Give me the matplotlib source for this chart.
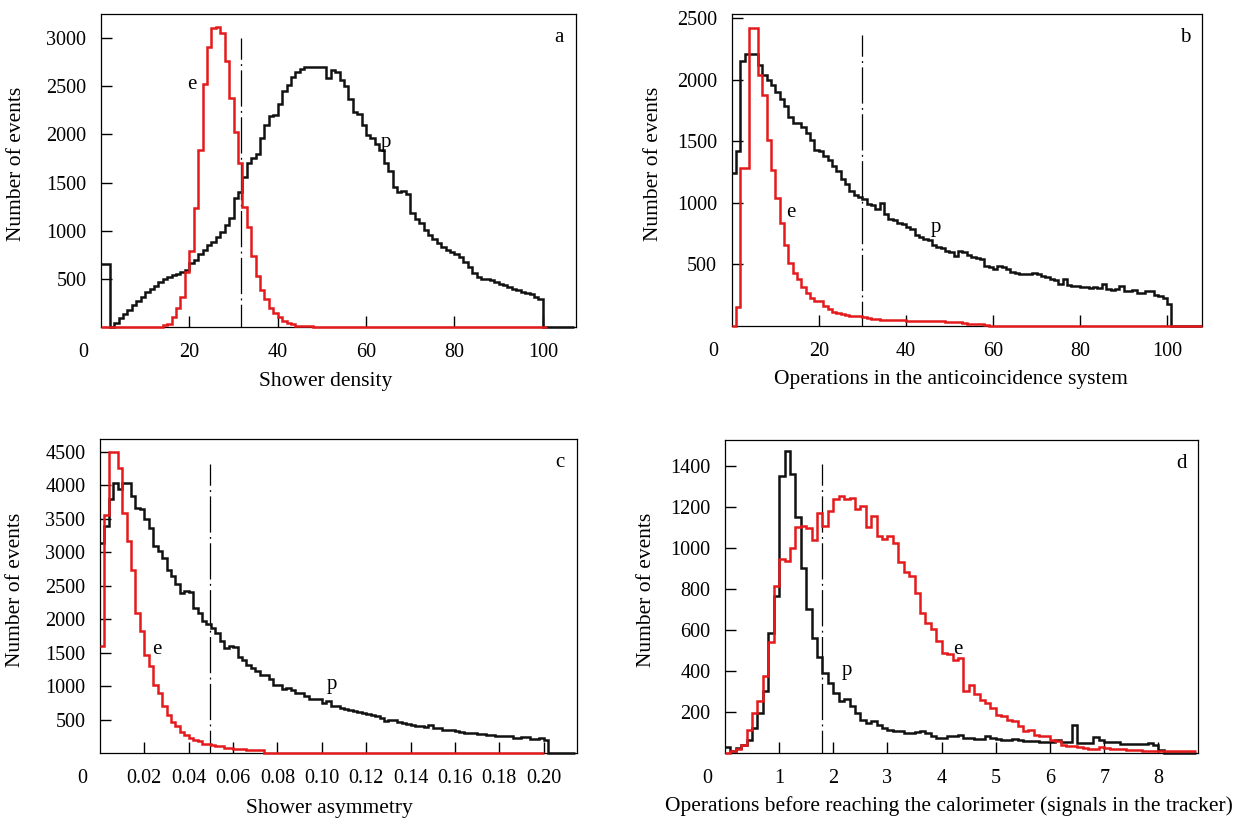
#!/usr/bin/env python

import numpy as np
import matplotlib
matplotlib.use('Agg')
import matplotlib.pyplot as plt

plt.rcParams['font.family'] = ['Liberation Serif', 'DejaVu Serif']
plt.rcParams['font.size'] = 15

BLACK = '#111111'
RED = '#e41a1c'

# (a) shower density, bin width 1
a_width = 1.0
a_p = [650, 650, 5, 40, 90, 140, 180, 230, 270, 310,
       360, 400, 430, 470, 500, 520, 535, 555, 575, 590,
       660, 700, 760, 800, 850, 880, 930, 990, 1060, 1130,
       1340, 1400, 1560, 1700, 1750, 1800, 1960, 2100, 2190, 2200,
       2320, 2450, 2510, 2600, 2650, 2680, 2700, 2700, 2700, 2700,
       2700, 2590, 2670, 2650, 2560, 2500, 2370, 2230, 2210, 2100,
       1990, 1960, 1900, 1840, 1700, 1620, 1450, 1400, 1410, 1380,
       1180, 1120, 1080, 1010, 960, 910, 870, 830, 800, 780,
       760, 730, 680, 620, 560, 520, 500, 495, 485, 470,
       450, 440, 420, 400, 380, 360, 350, 340, 310, 290,
       0, 0, 0, 0, 0, 0, 0]
a_e = ([0] * 14 +
       [20, 30, 100, 200, 310, 570, 790, 1240, 1840, 2520,
        2910, 3100, 3110, 3050, 2760, 2380, 2030, 1700, 1250, 1040,
        740, 530, 380, 290, 200, 150, 100, 65, 40, 28,
        15, 10, 10, 10] +
       [0] * 53)

# (b) operations in the anticoincidence system, bin width 1
b_width = 1.0
b_p = [1240, 1420, 2150, 2210, 2210, 2210, 2120, 2040, 2000, 1960,
       1900, 1840, 1790, 1700, 1650, 1650, 1620, 1570, 1510, 1430,
       1420, 1380, 1350, 1300, 1260, 1190, 1150, 1100, 1060, 1050,
       1030, 990, 980, 950, 1000, 910, 870, 860, 840, 830,
       800, 790, 740, 720, 710, 700, 660, 640, 630, 610,
       600, 570, 610, 600, 580, 560, 550, 540, 490, 480,
       460, 490, 480, 460, 435, 430, 420, 420, 420, 430,
       425, 405, 400, 380, 375, 340, 380, 330, 325, 325,
       320, 320, 310, 315, 310, 340, 300, 295, 300, 325,
       285, 280, 295, 270, 270, 285, 280, 255, 240, 230,
       175, 0, 0, 0, 0, 0, 0, 0]
b_e = ([0, 150, 1280, 1280, 2420, 2420, 2040, 1880, 1510, 1270,
        1040, 840, 660, 510, 430, 380, 320, 270, 230, 200,
        200, 160, 135, 110, 105, 95, 90, 80, 80, 80,
        70, 65, 60, 55, 50, 50, 50, 50, 50, 50,
        40, 40, 40, 40, 40, 40, 40, 40, 40,
        30, 30, 30, 30, 25, 20, 20, 15, 15, 10] +
       [0] * 49)

# (c) shower asymmetry, bin width 0.002
c_width = 0.002
c_p = [3140, 3390, 3800, 4040, 3950, 4040, 4030, 3840, 3660, 3640,
       3490, 3360, 3090, 3010, 2910, 2740, 2640, 2520, 2390, 2420,
       2410, 2170, 2090, 1970, 1920, 1870, 1790, 1670, 1570, 1600,
       1590, 1440, 1390, 1320, 1270, 1220, 1170, 1170, 1100, 1020,
       1020, 950, 970, 945, 900, 895, 850, 800, 800, 800,
       750, 770, 700, 700, 670, 650, 645, 620, 610, 600,
       575, 570, 550, 525, 475, 500, 490, 470, 450, 430,
       420, 400, 400, 395, 425, 380, 370, 350, 345, 340,
       325, 320, 300, 300, 300, 290, 285, 275, 270, 260,
       250, 250, 250, 230, 225, 240, 235, 210, 215, 225,
       190, 0, 0, 0, 0, 0, 0]
c_e = ([1600, 3560, 4490, 4490, 4250, 3590, 3160, 2740, 2090, 1820,
        1470, 1300, 1020, 900, 700, 570, 470, 400, 320, 275,
        225, 200, 175, 140, 130, 125, 100, 100, 75, 75,
        60, 60, 60, 40, 40, 40, 40] +
       [0] * 63)

# (d) operations before reaching the calorimeter, bin width 0.1
d_width = 0.1
d_p = [30, 8, 25, 40, 65, 122, 195, 300, 585, 765,
       1350, 1470, 1360, 1150, 900, 700, 560, 470, 390, 340,
       290, 255, 265, 228, 195, 163, 146, 154, 138, 122,
       110, 106, 106, 98, 98, 100, 106, 98, 81, 73,
       73, 81, 81, 89, 73, 73, 70, 70, 81, 73,
       68, 62, 62, 68, 62, 57, 57, 57, 55, 52,
       52, 62, 52, 52, 138, 49, 49, 49, 78, 65,
       52, 52, 52, 42, 42, 42, 42, 42, 49, 40,
       16, 0, 0, 0, 0, 0, 0]
d_e = [0, 8, 20, 40, 110, 195, 252, 374, 540, 813,
       943, 935, 1000, 1100, 1106, 1098, 1040, 1171, 1106, 1179,
       1236, 1252, 1236, 1244, 1187, 1203, 1100, 1154, 1057, 1041,
       1057, 1024, 930, 880, 862, 780, 683, 634, 602, 545,
       488, 480, 455, 463, 301, 333, 285, 260, 244, 220,
       187, 179, 163, 154, 130, 106, 114, 89, 81, 81,
       65, 57, 41, 33, 33, 29, 24, 20, 20, 28,
       24, 20, 20, 20, 16, 16, 16, 8, 8, 8,
       8, 8, 8, 8, 8, 8, 8]

a_xticks = [20, 40, 60, 80, 100]
b_xticks = [20, 40, 60, 80, 100]
c_xticks = [0.02, 0.04, 0.06, 0.08, 0.10, 0.12, 0.14, 0.16, 0.18, 0.20]
c_xticklabels = ['0.02', '0.04', '0.06', '0.08', '0.10', '0.12', '0.14',
                 '0.16', '0.18', '0.20']
d_xticks = [1, 2, 3, 4, 5, 6, 7, 8]
a_yticks = [500, 1000, 1500, 2000, 2500, 3000]
b_yticks = [500, 1000, 1500, 2000, 2500]
c_yticks = [500, 1000, 1500, 2000, 2500, 3000, 3500, 4000, 4500]
d_yticks = [200, 400, 600, 800, 1000, 1200, 1400]


def draw_panel(ax, width, p_vals, e_vals, xlim, ylim, xticks, xticklabels,
               yticks, cut_x, cut_top, letter, e_pos, p_pos, xlabel,
               xlabel_pos, ylabel_x):
    ax.stairs(p_vals, np.arange(len(p_vals) + 1) * width, baseline=None,
              color=BLACK, lw=1.8, clip_on=False, zorder=3)
    ax.stairs(e_vals, np.arange(len(e_vals) + 1) * width, baseline=None,
              color=RED, lw=1.8, clip_on=False, zorder=4)
    ax.plot([cut_x, cut_x], [cut_top, 0], color='black', lw=0.9,
            ls=(12, (29, 3.5, 1.5, 3.5)), zorder=2)
    ax.set_xlim(xlim)
    ax.set_ylim(ylim)
    ax.set_xticks(xticks)
    ax.set_xticklabels(xticklabels)
    ax.set_yticks(yticks)
    ax.set_yticklabels([str(t) for t in yticks])
    ax.tick_params(direction='in', length=8, width=1, labelsize=14.5,
                   top=False, right=False)
    ax.tick_params(axis='x', pad=11.5)
    ax.tick_params(axis='y', pad=10.5)
    for spine in ax.spines.values():
        spine.set_linewidth(0.9)
    ax.annotate('0', xy=(0, 0), xycoords='axes fraction', xytext=(-13, -18.5),
                textcoords='offset points', ha='center', va='center',
                fontsize=14.5)
    ax.text(0.965, 0.925, letter, transform=ax.transAxes, ha='center',
            va='center', fontsize=15)
    ax.text(e_pos[0], e_pos[1], 'e', ha='center', va='center', fontsize=15)
    ax.text(p_pos[0], p_pos[1], 'p', ha='center', va='center', fontsize=15)
    ax.set_xlabel(xlabel, va='center', fontsize=15.5)
    ax.xaxis.set_label_coords(xlabel_pos[0], xlabel_pos[1])
    ax.set_ylabel('Number of events', va='center', fontsize=15.5)
    ax.yaxis.set_label_coords(ylabel_x, 0.52)


fig = plt.figure(figsize=(12.54, 8.19), dpi=100)
ax_a = fig.add_axes([0.0805, 0.6007, 0.3788, 0.3822])
ax_b = fig.add_axes([0.5835, 0.6020, 0.3750, 0.3810])
ax_c = fig.add_axes([0.0797, 0.0806, 0.3804, 0.3834])
ax_d = fig.add_axes([0.5781, 0.0806, 0.3772, 0.3822])

draw_panel(ax_a, a_width, a_p, a_e, (0, 107.5), (0, 3250), a_xticks,
           [str(t) for t in a_xticks], a_yticks, 31.7, 3000, 'a',
           (20.5, 2520), (64.5, 1920), 'Shower density', (0.472, -0.173),
           -0.178)
draw_panel(ax_b, b_width, b_p, b_e, (0, 108), (0, 2535), b_xticks,
           [str(t) for t in b_xticks], b_yticks, 30, 2360, 'b',
           (13.6, 925), (46.8, 800),
           'Operations in the anticoincidence system', (0.467, -0.170),
           -0.167)
draw_panel(ax_c, c_width, c_p, c_e, (0, 0.215), (0, 4690), c_xticks,
           c_xticklabels, c_yticks, 0.0495, 4310, 'c',
           (0.0257, 1545), (0.1045, 1020), 'Shower asymmetry',
           (0.482, -0.178), -0.176)
draw_panel(ax_d, d_width, d_p, d_e, (0, 8.73), (0, 1525), d_xticks,
           [str(t) for t in d_xticks], d_yticks, 1.8, 1410, 'd',
           (4.3, 505), (2.25, 400),
           'Operations before reaching the calorimeter (signals in the tracker)',
           (0.474, -0.170), -0.165)

plt.savefig('out.png', dpi=100)
